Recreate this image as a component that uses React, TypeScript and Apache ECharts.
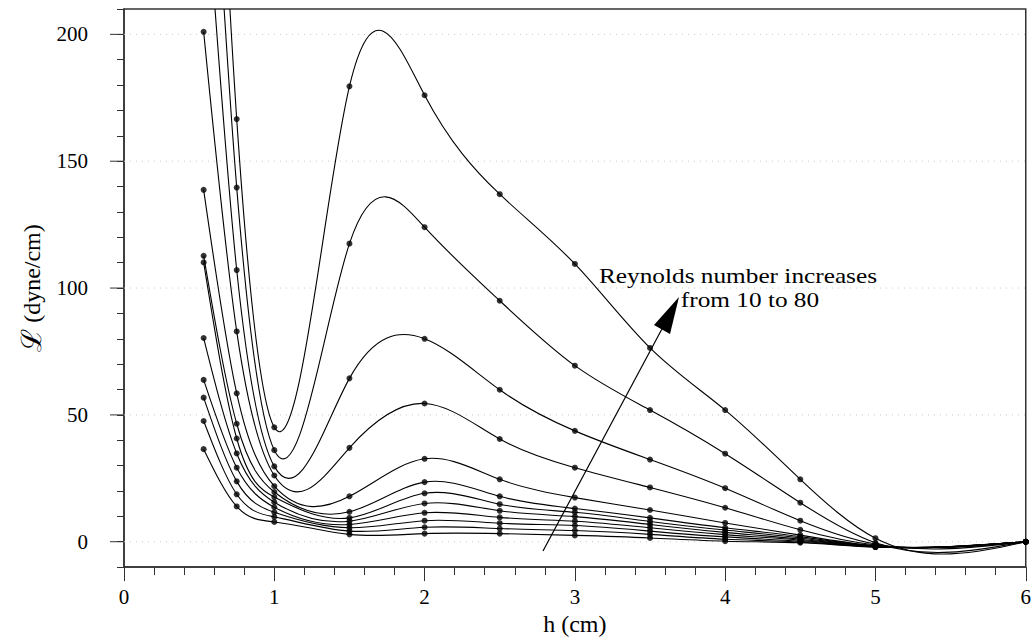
import React, { useEffect, useRef } from 'react';
import * as echarts from 'echarts';

// h (cm) positions of the computed points
const hValues = [0.53, 0.75, 1, 1.5, 2, 2.5, 3, 3.5, 4, 4.5, 5, 6];

// Lift per unit length (dyne/cm), one curve per Reynolds number (highest Re first)
const curveRe80 = [411, 166.6, 45.1, 179.5, 176, 137, 109.5, 76.4, 51.9, 24.6, 1.4, 0];
const curveRe70 = [343, 139.6, 36.1, 117.5, 124, 95, 69.4, 51.9, 34.7, 15.4, -0.4, 0];
const curveRe60 = [272, 107.1, 29.7, 64.4, 80, 59.9, 43.7, 32.4, 21.1, 8.3, -0.9, 0];
const curveRe50 = [201, 82.9, 26.1, 37.0, 54.5, 40.5, 29.2, 21.4, 13.4, 4.7, -1.3, 0];
const curveRe40 = [138.7, 58.5, 21.9, 17.9, 32.7, 24.6, 17.4, 12.5, 7.4, 2.6, -1.6, 0];
const curveRe35 = [112.7, 46.5, 19.6, 11.8, 23.5, 17.9, 13.1, 9.4, 5.5, 2.0, -1.7, 0];
const curveRe30 = [110.1, 40.7, 17.6, 9.4, 19.1, 14.8, 11.6, 8.0, 4.6, 1.5, -1.8, 0];
const curveRe25 = [80.3, 34.8, 15.6, 8.1, 15.1, 12.2, 9.9, 6.8, 3.7, 1.0, -1.9, 0];
const curveRe20 = [63.8, 29.2, 13.6, 6.8, 11.4, 9.6, 8.1, 5.5, 2.8, 0.6, -2.0, 0];
const curveRe15 = [56.8, 23.8, 11.6, 5.5, 8.3, 7.3, 6.4, 4.2, 1.9, 0.2, -2.0, 0];
const curveRe12 = [47.6, 18.7, 9.8, 4.2, 5.7, 5.2, 4.4, 2.9, 1.0, -0.1, -2.1, 0];
const curveRe10 = [36.5, 13.9, 7.8, 2.9, 3.2, 3.2, 2.5, 1.5, 0.2, -0.4, -2.1, 0];

const curves = [
  curveRe80, curveRe70, curveRe60, curveRe50, curveRe40, curveRe35,
  curveRe30, curveRe25, curveRe20, curveRe15, curveRe12, curveRe10,
];

const yMajorTicks = [0, 50, 100, 150, 200];

const FONT = 'Liberation Serif, serif';

// natural cubic spline slopes at the knots (used only to draw the smooth curve)
function splineSlopes(xs: number[], ys: number[]): number[] {
  const n = xs.length - 1;
  const h: number[] = [];
  for (let i = 0; i < n; i++) h.push(xs[i + 1] - xs[i]);
  const M = new Array(n + 1).fill(0);
  if (n > 1) {
    const a: number[] = [], b: number[] = [], c: number[] = [], d: number[] = [];
    for (let i = 1; i < n; i++) {
      a.push(h[i - 1]);
      b.push(2 * (h[i - 1] + h[i]));
      c.push(h[i]);
      d.push(6 * ((ys[i + 1] - ys[i]) / h[i] - (ys[i] - ys[i - 1]) / h[i - 1]));
    }
    const m = b.length;
    for (let i = 1; i < m; i++) {
      const w = a[i] / b[i - 1];
      b[i] -= w * c[i - 1];
      d[i] -= w * d[i - 1];
    }
    const sol = new Array(m).fill(0);
    sol[m - 1] = d[m - 1] / b[m - 1];
    for (let i = m - 2; i >= 0; i--) sol[i] = (d[i] - c[i] * sol[i + 1]) / b[i];
    for (let i = 1; i < n; i++) M[i] = sol[i - 1];
  }
  const slopes: number[] = [];
  for (let i = 0; i < n; i++) {
    slopes.push((ys[i + 1] - ys[i]) / h[i] - (h[i] * (2 * M[i] + M[i + 1])) / 6);
  }
  slopes.push((ys[n] - ys[n - 1]) / h[n - 1] + (h[n - 1] * (M[n - 1] + 2 * M[n])) / 6);
  return slopes;
}

export default function App() {
  const ref = useRef<HTMLDivElement>(null);

  useEffect(() => {
    if (!ref.current) return;
    const chart = echarts.init(ref.current, undefined, { renderer: 'svg' });

    const curveSeries = curves.map((vals, ci) => {
      const slopes = splineSlopes(hValues, vals);
      return {
        type: 'custom',
        name: 'curve' + ci,
        coordinateSystem: 'cartesian2d',
        clip: true,
        silent: true,
        z: 3,
        data: hValues.map((h, i) => [h, vals[i]]),
        encode: { x: 0, y: 1 },
        renderItem: (params: any, api: any) => {
          const i = params.dataIndex;
          if (i >= hValues.length - 1) return { type: 'group', children: [] };
          const x0 = hValues[i], x1 = hValues[i + 1];
          const y0 = vals[i], y1 = vals[i + 1];
          const dh = (x1 - x0) / 3;
          const p0 = api.coord([x0, y0]);
          const p3 = api.coord([x1, y1]);
          const c1 = api.coord([x0 + dh, y0 + slopes[i] * dh]);
          const c2 = api.coord([x1 - dh, y1 - slopes[i + 1] * dh]);
          return {
            type: 'bezierCurve',
            shape: {
              x1: p0[0], y1: p0[1], x2: p3[0], y2: p3[1],
              cpx1: c1[0], cpy1: c1[1], cpx2: c2[0], cpy2: c2[1],
            },
            style: { stroke: '#000', fill: null, lineWidth: 1.1 },
          };
        },
      };
    });

    const pointData: number[][] = [];
    curves.forEach((vals) => vals.forEach((v, i) => pointData.push([hValues[i], v])));

    chart.setOption({
      animation: false,
      textStyle: { fontFamily: FONT },
      grid: {
        left: 124, right: 2, top: 9, bottom: 66,
        show: true, borderColor: '#333', borderWidth: 1.5, backgroundColor: 'transparent',
      },
      xAxis: {
        type: 'value', min: 0, max: 6, interval: 1,
        axisLine: { show: true, onZero: false, lineStyle: { color: '#333', width: 1.5 } },
        axisTick: { show: true, inside: false, length: 14, lineStyle: { color: '#333', width: 1 } },
        minorTick: { show: true, splitNumber: 5, length: 8, lineStyle: { color: '#333', width: 1 } },
        splitLine: { show: false },
        axisLabel: { color: '#000', fontSize: 21, fontFamily: FONT, margin: 19 },
        name: 'h (cm)', nameLocation: 'middle', nameGap: 39,
        nameTextStyle: { color: '#000', fontSize: 24, fontFamily: FONT },
      },
      yAxis: {
        type: 'value', min: -10, max: 210, interval: 10,
        axisLine: { show: true, onZero: false, lineStyle: { color: '#333', width: 1.5 } },
        axisTick: { show: true, inside: false, length: 7, lineStyle: { color: '#333', width: 1 } },
        splitLine: { show: false },
        axisLabel: {
          color: '#000', fontSize: 21, fontFamily: FONT, margin: 36,
          formatter: (v: number) => (Math.abs(v % 50) < 1e-6 ? String(Math.round(v)) : ''),
        },
        name: '{l|ℒ} (dyne/cm)', nameLocation: 'middle', nameGap: 70, nameRotate: 90,
        nameTextStyle: {
          color: '#000', fontSize: 24, fontFamily: FONT,
          rich: { l: { fontSize: 28, fontFamily: FONT, color: '#000' } },
        },
      },
      series: [
        {
          type: 'custom',
          name: 'majorTicks',
          coordinateSystem: 'cartesian2d',
          clip: false,
          silent: true,
          z: 1,
          data: yMajorTicks.map((v) => [0, v]),
          encode: { x: 0, y: 1 },
          renderItem: (params: any, api: any) => {
            const v = yMajorTicks[params.dataIndex];
            const pl = api.coord([0, v]);
            const pr = api.coord([6, v]);
            return {
              type: 'group',
              children: [
                {
                  type: 'line',
                  shape: { x1: pl[0], y1: pl[1], x2: pr[0], y2: pr[1] },
                  style: { stroke: '#c8c8c8', lineWidth: 1, lineDash: [1, 5] },
                },
                {
                  type: 'line',
                  shape: { x1: pl[0] - 14, y1: pl[1], x2: pl[0], y2: pl[1] },
                  style: { stroke: '#333', lineWidth: 1 },
                },
              ],
            };
          },
        },
        ...curveSeries,
        {
          type: 'scatter',
          name: 'points',
          data: pointData,
          symbol: 'circle',
          symbolSize: 6,
          itemStyle: { color: '#000' },
          z: 4,
          silent: true,
        },
      ],
      graphic: [
        {
          type: 'line',
          shape: { x1: 543, y1: 551, x2: 663, y2: 327 },
          style: { stroke: '#000', lineWidth: 1.2 },
          z: 10,
        },
        {
          type: 'polygon',
          shape: { points: [[679, 297], [670, 334], [654, 325]] },
          style: { fill: '#000' },
          z: 10,
        },
        {
          type: 'text',
          x: 738, y: 276,
          scaleX: 1.15,
          style: {
            text: 'Reynolds number increases', fill: '#000', fontSize: 22, fontFamily: FONT,
            textAlign: 'center', textVerticalAlign: 'middle',
          },
          z: 10,
        },
        {
          type: 'text',
          x: 750, y: 300,
          scaleX: 1.15,
          style: {
            text: 'from 10 to 80', fill: '#000', fontSize: 22, fontFamily: FONT,
            textAlign: 'center', textVerticalAlign: 'middle',
          },
          z: 10,
        },
      ],
    });

    return () => chart.dispose();
  }, []);

  return (
    <div
      ref={ref}
      style={{ position: 'absolute', left: 0, top: 0, width: 1034, height: 641 }}
    />
  );
}
